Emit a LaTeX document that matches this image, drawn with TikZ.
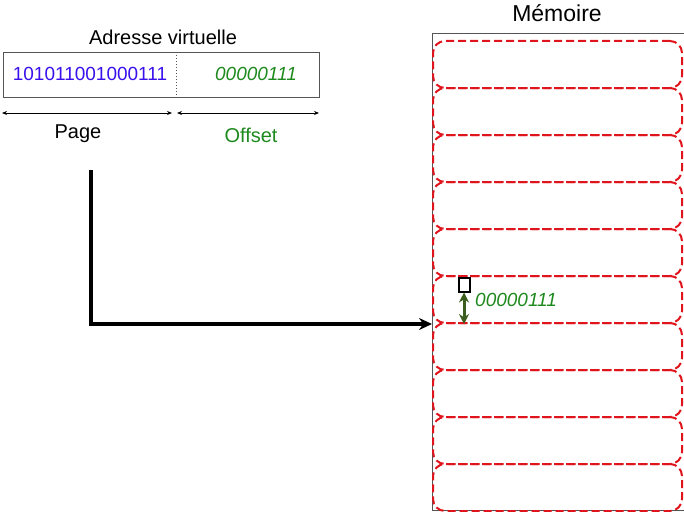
\documentclass[tikz,border=0pt]{standalone}
\usepackage{fontspec}
\setmainfont{Liberation Sans}
\usetikzlibrary{arrows.meta}
\definecolor{bits}{HTML}{3A10EC}
\definecolor{offs}{HTML}{1E8A1E}
\definecolor{dark}{HTML}{3B5E1F}
\definecolor{frame}{HTML}{555555}
\definecolor{slot}{HTML}{E0141C}
\tikzset{
  boxline/.style={draw=frame, line width=1.1pt, inner sep=0pt},
  slotline/.style={draw=slot, line width=2pt, dash pattern=on 8pt off 4pt, rounded corners=12pt, inner sep=0pt},
  lab/.style={font=\fontsize{20}{24}\selectfont, inner sep=0pt},
  bitlab/.style={font=\fontsize{19}{23}\selectfont, inner sep=0pt},
  offlab/.style={font=\fontsize{19}{23}\selectfont\itshape, text=offs, inner sep=0pt},
  spanline/.style={draw=black, line width=0.9pt, {Stealth[length=5pt,width=4pt]}-{Stealth[length=5pt,width=4pt]}},
  route/.style={draw=black, line width=3.2pt, -{Stealth[length=13pt,width=12pt]}},
  offsetarrow/.style={draw=dark, line width=3pt, {Stealth[length=10pt,width=10pt]}-{Stealth[length=10pt,width=10pt]}},
}

\begin{document}
\begin{tikzpicture}[x=1pt,y=-1pt]
\useasboundingbox (0,0) rectangle (684,511);

% adresse virtuelle
\node[lab] (title) at (163,37) {Adresse virtuelle};
\node[boxline, minimum width=316pt, minimum height=45pt, anchor=north west] (addr) at (3,52) {};
\coordinate (split) at (176,52);
\draw[draw=frame, dotted, line width=1pt] (split) -- (split |- addr.south);
\node[bitlab, text=bits] (pagebits) at (90,74) {101011001000111};
\node[offlab] (offbits) at (256,74) {00000111};

\coordinate (pl) at (2,113);
\coordinate (pr) at (172,113);
\coordinate (ol) at (177,113);
\coordinate (or) at (319,113);
\draw[spanline] (pl) -- (pr);
\draw[spanline] (ol) -- (or);
\node[lab] (page) at (78,134) {Page};
\node[lab, text=offs] (offset) at (251,135) {Offset};

% memoire
\node[lab, font=\fontsize{23}{27}\selectfont] (memtitle) at (557,13) {Mémoire};
\node[boxline, minimum width=252pt, minimum height=477pt, anchor=north west] (mem) at (432,33) {};
\foreach \i in {0,...,9}
  \node[slotline, minimum width=249pt, minimum height=47pt] (row\i) at ({557.5},{64.5+47*\i}) {};

\node[draw=black, line width=2pt, minimum width=11pt, minimum height=14pt, inner sep=0pt] (cell) at (464,284.5) {};
\draw[offsetarrow] (cell.south) -- (cell.south |- row5.south);
\node[offlab, anchor=west] (celloff) at (475,300) {00000111};

\coordinate (pagestart) at (91,170);
\draw[route] (pagestart) |- (mem.west |- row5.south);
\end{tikzpicture}
\end{document}
